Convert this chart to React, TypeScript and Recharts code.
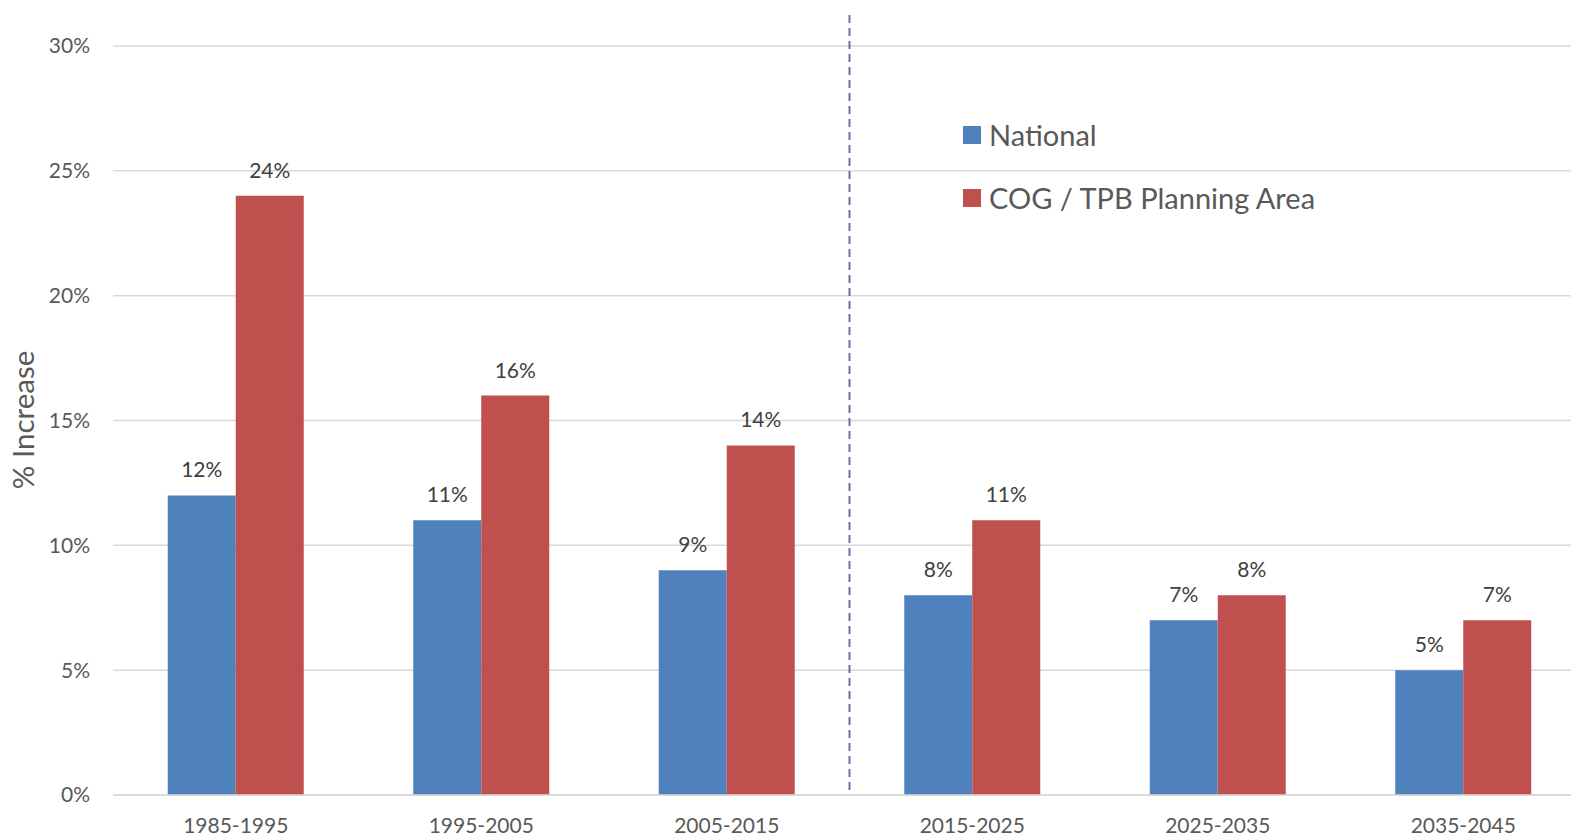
import React from 'react';
import {
  BarChart,
  Bar,
  XAxis,
  YAxis,
  CartesianGrid,
  LabelList,
  ReferenceLine,
} from 'recharts';

const periods = ['1985-1995', '1995-2005', '2005-2015', '2015-2025', '2025-2035', '2035-2045'];
const nationalValues = [12, 11, 9, 8, 7, 5];
const cogValues = [24, 16, 14, 11, 8, 7];
const yTicks = [0, 5, 10, 15, 20, 25, 30];

const seriesInfo = [
  { key: 'national', name: 'National', color: '#4F81BD' },
  { key: 'cog', name: 'COG / TPB Planning Area', color: '#C0504D' },
];

const data = periods.map((p, i) => ({
  period: p,
  national: nationalValues[i],
  cog: cogValues[i],
}));

const FONT = 'Lato, "Open Sans", sans-serif';
const GRAY = '#595959';

// legend sits inside the plot, top right of the divider
function LegendBox() {
  return (
    <div style={{ position: 'absolute', left: 963, top: 103, fontFamily: FONT }}>
      {seriesInfo.map((s) => (
        <div
          key={s.key}
          style={{ display: 'flex', alignItems: 'center', height: 63, fontSize: 29, color: GRAY }}
        >
          <span style={{ width: 18, height: 18, background: s.color, marginRight: 8, display: 'inline-block' }} />
          {s.name}
        </div>
      ))}
    </div>
  );
}

export default function App() {
  return (
    <div
      style={{
        position: 'absolute',
        left: 0,
        top: 0,
        width: 1571,
        height: 839,
        overflow: 'hidden',
        background: '#fff',
      }}
    >
      <BarChart
        width={1586}
        height={839}
        data={data}
        margin={{ top: 46, right: 0, bottom: 0, left: 0 }}
        barCategoryGap="22.3%"
        barGap={0}
      >
        <CartesianGrid vertical={false} stroke="#D9D9D9" strokeWidth={1.5} />
        <XAxis
          dataKey="period"
          height={44}
          tickLine={false}
          tickSize={0}
          tickMargin={23}
          axisLine={{ stroke: '#D9D9D9', strokeWidth: 1.5 }}
          tick={{ fontSize: 21, fill: GRAY, fontFamily: FONT }}
          interval={0}
        />
        <YAxis
          width={113}
          domain={[0, 30]}
          ticks={yTicks}
          tickFormatter={(v: number) => `${v}%`}
          axisLine={false}
          tickLine={false}
          tickSize={0}
          tickMargin={23}
          tick={{ fontSize: 21, fill: GRAY, fontFamily: FONT }}
          label={{
            content: () => (
              <text
                x={34}
                y={420}
                transform="rotate(-90, 34, 420)"
                textAnchor="middle"
                fontSize={29.5}
                fill={GRAY}
                fontFamily={FONT}
              >
                % Increase
              </text>
            ),
          }}
        />
        <ReferenceLine
          segment={[
            { x: '2005-2015', y: 0.2 },
            { x: '2005-2015', y: 31.4 },
          ]}
          position="end"
          ifOverflow="visible"
          stroke="#8064A2"
          strokeWidth={2}
          strokeDasharray="8 5"
        />
        {seriesInfo.map((s) => (
          <Bar key={s.key} dataKey={s.key} name={s.name} fill={s.color} isAnimationActive={false}>
            <LabelList
              dataKey={s.key}
              position="top"
              offset={18}
              formatter={(v: any) => `${v}%`}
              style={{ fontSize: 21, fill: '#404040', fontFamily: FONT }}
            />
          </Bar>
        ))}
      </BarChart>
      <LegendBox />
    </div>
  );
}
